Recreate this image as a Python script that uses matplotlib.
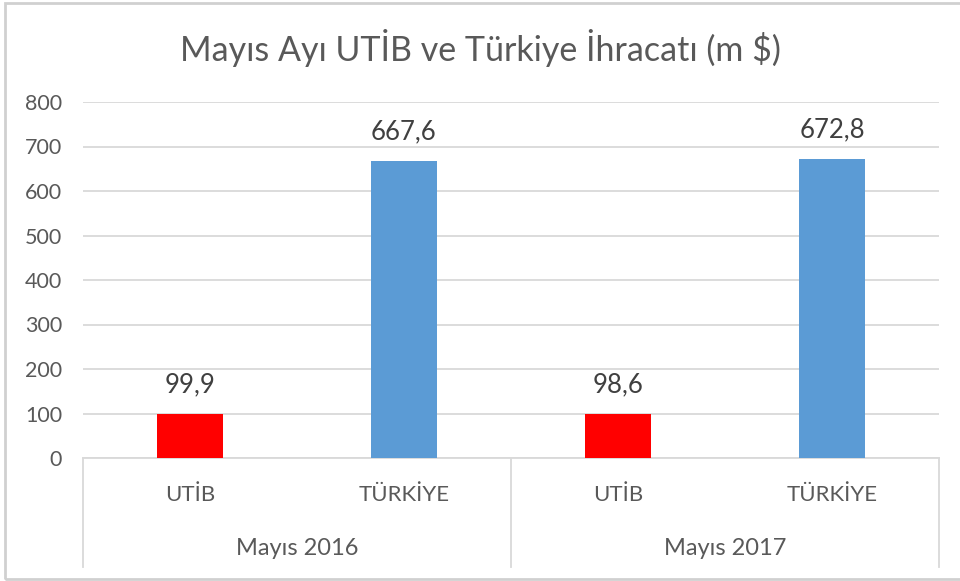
import matplotlib.pyplot as plt
from matplotlib.patches import Rectangle
from matplotlib.lines import Line2D

plt.rcParams['font.family'] = ['Lato', 'DejaVu Sans']

periods = ['Mayıs 2016', 'Mayıs 2017']
groups = ['UTİB', 'TÜRKİYE']
values = [99.9, 667.6, 98.6, 672.8]
labels = ['99,9', '667,6', '98,6', '672,8']
colors = ['#FF0000', '#5B9BD5', '#FF0000', '#5B9BD5']

text_col = '#595959'
grid_col = '#D9D9D9'

fig = plt.figure(figsize=(9.6, 5.81), dpi=100)
ax = fig.add_axes([83/960, 1 - 458/581, 856/960, 356/581])

x = list(range(len(values)))
ax.bar(x, values, width=0.31, color=colors, zorder=3)
ax.set_xlim(-0.5, len(values) - 0.5)
ax.set_ylim(0, 800)
ax.set_yticks(range(0, 801, 100))
ax.tick_params(axis='y', length=0, labelsize=15.5, labelcolor=text_col, pad=15)
ax.set_xticks([])
ax.grid(axis='y', color=grid_col, linewidth=1.3, zorder=0)
for s in ax.spines.values():
    s.set_visible(False)

for xi, v, lab in zip(x, values, labels):
    ax.annotate(lab, (xi, v), xytext=(0, 21), textcoords='offset points',
                ha='center', va='center', fontsize=18.5, color='#404040')

# multi-level category axis
tr = ax.get_xaxis_transform()
ax.add_line(Line2D([-0.5, 3.5], [0, 0], transform=tr, color=grid_col, lw=1.3, clip_on=False))
for sx in [-0.5, 1.5, 3.5]:
    ax.add_line(Line2D([sx, sx], [0, -0.306], transform=tr, color=grid_col, lw=1.3, clip_on=False))
for i in range(len(values)):
    ax.text(i, -0.104, groups[i % 2], transform=tr, ha='center', va='center',
            fontsize=16, color=text_col)
for j, p in enumerate(periods):
    ax.text(2 * j + 0.5, -0.253, p, transform=tr, ha='center', va='center',
            fontsize=17, color=text_col)

fig.text(0.5, 1 - 48/581, 'Mayıs Ayı UTİB ve Türkiye İhracatı (m $)',
         ha='center', va='center', fontsize=24.5, color=text_col)

# outer chart border
fig.add_artist(Rectangle((5/960, 1 - 579/581), 1.0, 576/581, transform=fig.transFigure,
                         fill=False, edgecolor='#D0D0D0', lw=2))

fig.savefig('out.png', dpi=100)
